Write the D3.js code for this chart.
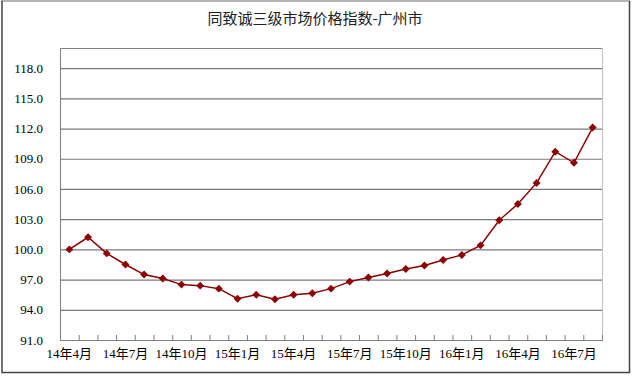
<!DOCTYPE html>
<head>
<meta charset="utf-8">
<style>
body {
    margin: 0;
    background: #fff;
}
.tick text {
    fill: #000;
    font-family: "Liberation Serif", "Noto Sans CJK SC", serif;
    font-size: 13px;
}
</style>
</head>
<body>
<div class="chart"></div>

<script src="https://d3js.org/d3.v7.min.js"></script>
<script>
const months = ["14年4月", "14年5月", "14年6月", "14年7月", "14年8月", "14年9月",
    "14年10月", "14年11月", "14年12月", "15年1月", "15年2月", "15年3月",
    "15年4月", "15年5月", "15年6月", "15年7月", "15年8月", "15年9月",
    "15年10月", "15年11月", "15年12月", "16年1月", "16年2月", "16年3月",
    "16年4月", "16年5月", "16年6月", "16年7月", "16年8月"];
const values = [100.0, 101.2, 99.6, 98.5, 97.5, 97.1, 96.5, 96.4, 96.1, 95.1,
    95.5, 95.05, 95.5, 95.65, 96.1, 96.8, 97.2, 97.6, 98.05, 98.4, 98.95,
    99.45, 100.4, 102.9, 104.5, 106.6, 109.7, 108.6, 112.1];
const xLabels = ["14年4月", "14年7月", "14年10月", "15年1月", "15年4月",
    "15年7月", "15年10月", "16年1月", "16年4月", "16年7月"];
const yTicks = [91, 94, 97, 100, 103, 106, 109, 112, 115, 118];
const title = "同致诚三级市场价格指数-广州市";

const W = 632, H = 376;
const plot = { left: 60, right: 602, top: 48, bottom: 340 };

const svg = d3.select(".chart").append("svg")
    .attr("width", W)
    .attr("height", H);

// outer frame: light top edge, dark other edges
svg.append("line").attr("x1", 1).attr("x2", 630).attr("y1", 1).attr("y2", 1)
    .attr("stroke", "#b4b4b4").attr("stroke-width", 2);
svg.append("path")
    .attr("d", "M2,1V372.5H629.5V1")
    .attr("fill", "none")
    .attr("stroke", "#444")
    .attr("stroke-width", 1.5);

svg.append("text")
    .attr("x", 315)
    .attr("y", 24)
    .attr("text-anchor", "middle")
    .style("font-family", "'Noto Sans CJK SC', sans-serif")
    .style("font-size", "15px")
    .style("fill", "#222")
    .text(title);

const x = d3.scaleBand()
    .domain(months)
    .range([plot.left, plot.right]);
const y = d3.scaleLinear()
    .domain([91, 120])
    .range([plot.bottom, plot.top]);

// plot area border (top / right)
svg.append("path")
    .attr("d", "M" + plot.left + "," + (plot.top + 0.5) + "H" + (plot.right + 0.5) + "V" + plot.bottom)
    .attr("fill", "none")
    .attr("stroke", "#c0c0c0");

// y axis + gridlines
const yAxis = d3.axisLeft(y)
    .tickValues(yTicks)
    .tickSize(-(plot.right - plot.left))
    .tickPadding(17)
    .tickFormat(d3.format(".1f"));
const gy = svg.append("g")
    .attr("transform", "translate(" + plot.left + ",0)")
    .call(yAxis);
gy.select(".domain").attr("stroke", "#808080");
gy.selectAll(".tick line").attr("stroke", "#7a7a7a").attr("stroke-width", 1.2);

// x boundary ticks, pointing up
const xb = d3.scaleLinear().domain([0, months.length]).range([plot.left, plot.right]);
const gt = svg.append("g")
    .attr("transform", "translate(0," + plot.bottom + ")")
    .call(d3.axisTop(xb).ticks(months.length).tickSize(5).tickFormat(""));
gt.selectAll("line").attr("stroke", "#808080");
gt.select(".domain").attr("stroke", "#808080");

// x labels
const gx = svg.append("g")
    .attr("transform", "translate(0," + plot.bottom + ")")
    .call(d3.axisBottom(x).tickValues(xLabels).tickSize(0).tickPadding(9));
gx.select(".domain").remove();

// line + markers
const line = d3.line()
    .x((d, i) => x(months[i]) + x.bandwidth() / 2)
    .y(d => y(d));
svg.append("path")
    .datum(values)
    .attr("d", line)
    .attr("fill", "none")
    .attr("stroke", "#8b0000")
    .attr("stroke-width", 1.5);

svg.selectAll(".pt")
    .data(values)
    .enter()
    .append("path")
        .attr("class", "pt")
        .attr("d", d3.symbol().type(d3.symbolDiamond2).size(40))
        .attr("transform", (d, i) => "translate(" + (x(months[i]) + x.bandwidth() / 2) + "," + y(d) + ")")
        .attr("fill", "#8b0000");
</script>
</body>
